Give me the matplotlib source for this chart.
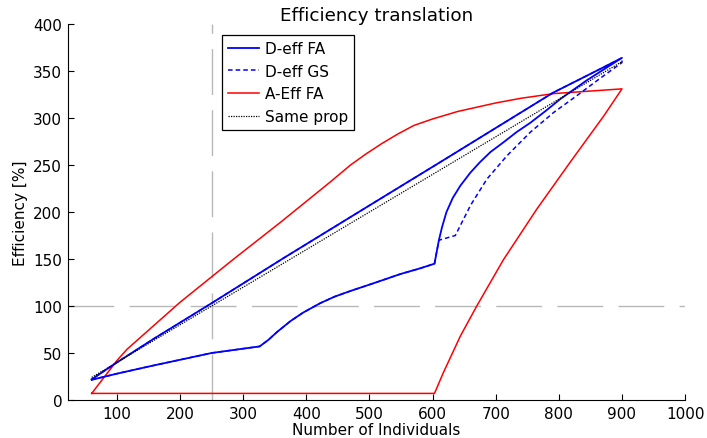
"""
Efficiency translation chart (MATLAB-style look).
"""

import matplotlib
matplotlib.use("Agg")
import matplotlib.pyplot as plt


# ---------------------------------------------------------------------------
# Daten
# ---------------------------------------------------------------------------

# gemeinsamer unterer Ast von D-eff FA / GS bis zum Sprung bei ~605
low_x = [60, 100, 153, 250, 326, 340, 353, 375, 395, 422, 445, 470, 510,
         549, 580, 603, 610]
low_y = [21.5, 28, 36, 50, 57, 64, 72, 84, 93, 103, 110, 116, 125,
         134, 140, 145, 170]

# obere (fast gerade) Rueckkehr
up_x = [900, 865, 791, 612, 500, 364, 250, 158, 100, 60]
up_y = [364, 352, 327, 253, 207, 151, 103, 65, 40, 22]

# D-eff FA: Ast nach dem Sprung
fa_x = [615, 622, 632, 644, 660, 675, 692, 712, 733, 755, 780, 802, 844, 900]
fa_y = [184, 200, 215, 228, 242, 253, 264, 274, 285, 295, 308, 320, 340, 364]

# D-eff GS: Ast nach dem Sprung
gs_x = [636, 660, 686, 718, 755, 792, 829, 865, 900]
gs_y = [175, 207, 235, 260, 285, 306, 324, 342, 359]

# A-Eff FA: flacher Boden, steiler Anstieg, obere Kurve zurueck
aeff_fa_x = [60, 603, 617, 644, 670, 712, 765, 818, 871, 900,
             792, 740, 700, 640, 600, 570, 545, 520, 495, 470, 438, 359, 285,
             200, 116, 100, 60]
aeff_fa_y = [7, 7, 29, 68, 100, 149, 203, 253, 302, 331,
             326, 321, 316, 307, 299, 292, 283, 273, 262, 250, 232, 189, 150,
             104, 54, 42, 7]

# Gleiche Proportion
same_x = [60, 900]
same_y = [24, 360]

# Referenzlinien
ref_x = 250
ref_y = 100

x_ticks = list(range(100, 1001, 100))
y_ticks = list(range(0, 401, 50))

deff_fa_x = low_x + fa_x + up_x
deff_fa_y = low_y + fa_y + up_y
deff_gs_x = low_x + gs_x + up_x
deff_gs_y = low_y + gs_y + up_y


plt.rcParams["font.family"] = ["DejaVu Sans"]
plt.rcParams["font.size"] = 11

fig = plt.figure(figsize=(7.07, 4.39), dpi=100)
ax = fig.add_axes([0.0958, 0.0866, 0.969 - 0.0958, 0.943 - 0.0866])

grey = (0.72, 0.72, 0.72)
ax.plot([ref_x, ref_x], [0, 400], color=grey, lw=1, dashes=(33, 11), zorder=1)
ax.plot([22, 1000], [ref_y, ref_y], color=grey, lw=1, dashes=(33, 11), zorder=1)

ax.plot(deff_fa_x, deff_fa_y, color="#0000ff", lw=1.3, label="D-eff FA", zorder=3)
ax.plot(deff_gs_x, deff_gs_y, color="#0000ff", lw=1.1, ls=(0, (3, 2)),
        label="D-eff GS", zorder=3)
ax.plot(aeff_fa_x, aeff_fa_y, color="#ff0000", lw=1.1, label="A-Eff FA", zorder=2)
ax.plot(same_x, same_y, color="black", lw=0.9, ls=(0, (1, 1)),
        label="Same prop", zorder=4)

ax.set_xlim(22, 1000)
ax.set_ylim(0, 400)
ax.set_xticks(x_ticks)
ax.set_yticks(y_ticks)
ax.tick_params(direction="in", length=4, width=0.8, pad=4)

ax.spines["top"].set_visible(False)
ax.spines["right"].set_visible(False)

ax.set_title("Efficiency translation", pad=1)
ax.set_xlabel("Number of Individuals", labelpad=1)
ax.set_ylabel("Efficiency [%]", labelpad=4)

leg = ax.legend(loc="upper left", bbox_to_anchor=(0.25, 0.971),
                borderaxespad=0, fancybox=False, framealpha=1,
                edgecolor="black", handlelength=2.0, handletextpad=0.4,
                labelspacing=0.5, borderpad=0.4)
leg.get_frame().set_linewidth(0.9)

fig.savefig("out.png", dpi=100)
